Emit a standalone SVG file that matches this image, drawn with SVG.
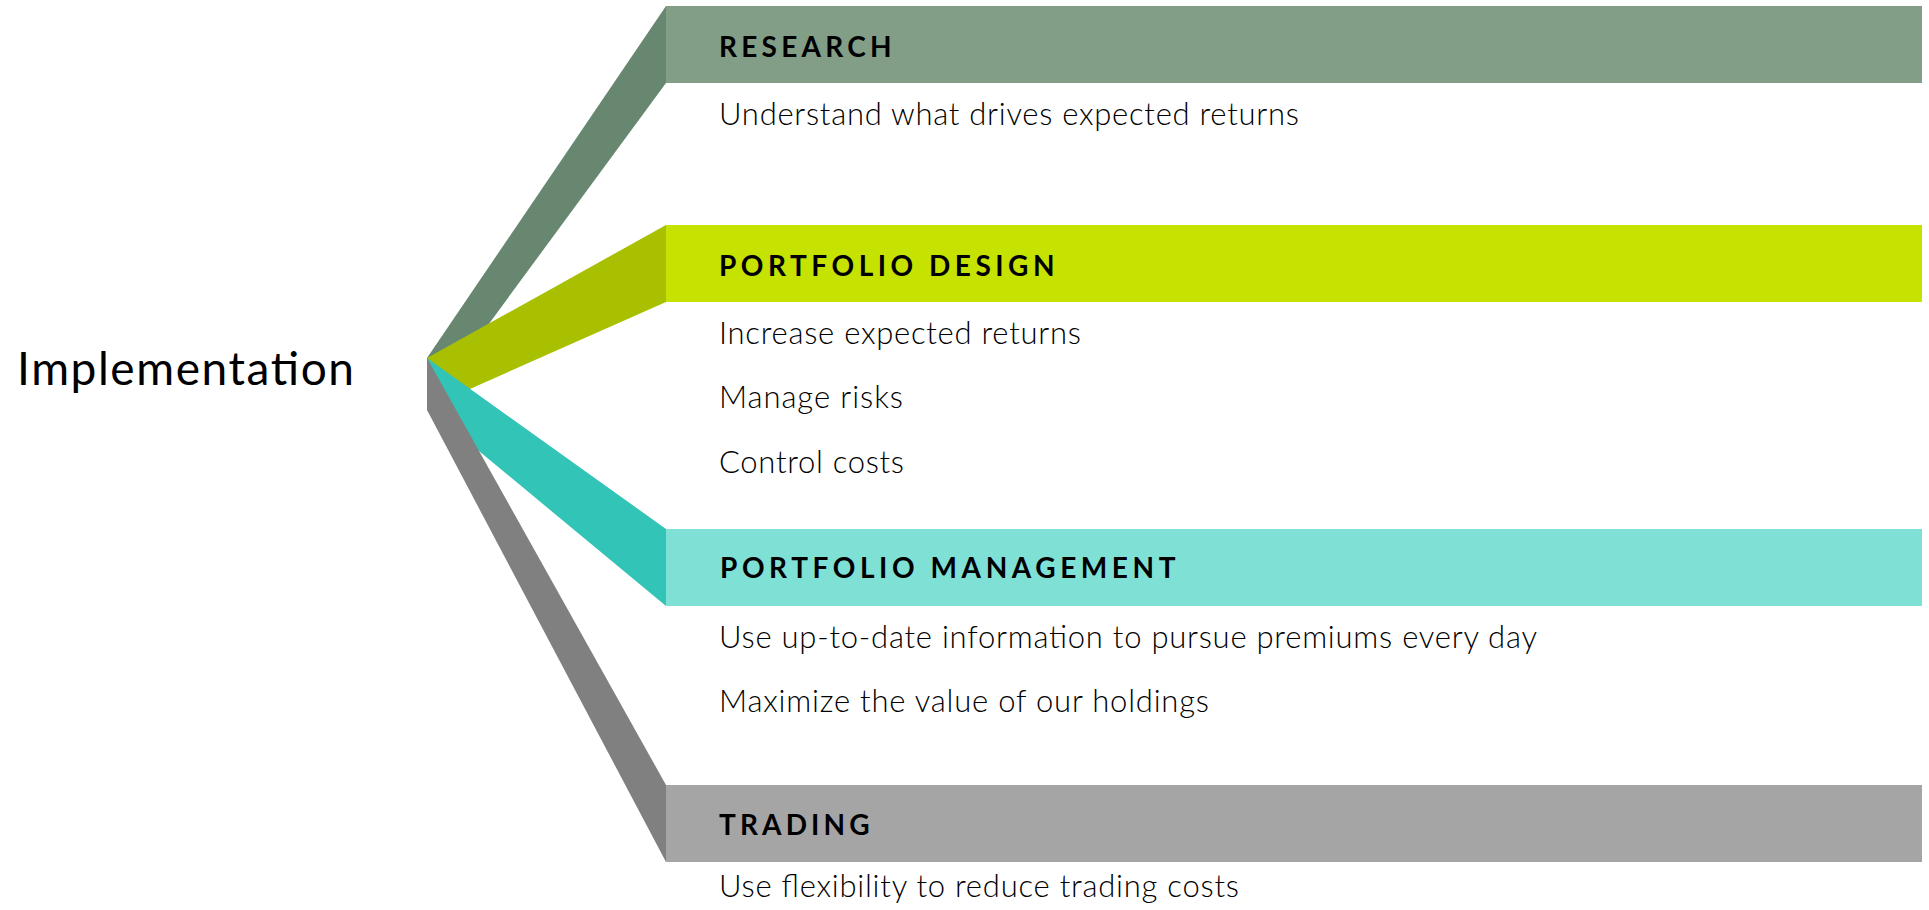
<svg xmlns="http://www.w3.org/2000/svg" width="1929" height="910" viewBox="0 0 1929 910">
<style>
.hd{font-family:"Lato","Liberation Sans",sans-serif;font-weight:700;font-size:28px;letter-spacing:3.5px;fill:#000}
.bd{font-family:"Lato","Liberation Sans",sans-serif;font-weight:300;font-size:31px;fill:#000}
.root{font-family:"Lato","Liberation Sans",sans-serif;font-weight:400;font-size:46px;fill:#000}
</style>
<rect width="1929" height="910" fill="#fff"/>
<g id="connectors">
<polygon points="427,358 666,6 666,83 427,408" fill="#678770"/>
<polygon points="427,358 666,225 666,302 427,408" fill="#A9C000"/>
<polygon points="427,358 666,529 666,606 427,408" fill="#31C4B7"/>
<polygon points="427,358 666,785 666,862 427,410" fill="#808080"/>
</g>
<g id="implementation">
<text class="root" x="17" y="385" textLength="337">Implementation</text>
</g>
<g id="research">
<rect x="666" y="6" width="1256" height="77" fill="#829E87"/>
<text class="hd" x="719" y="56.5" textLength="176">RESEARCH</text>
<text class="bd" x="719" y="125" textLength="580">Understand what drives expected returns</text>
</g>
<g id="portfolio-design">
<rect x="666" y="225" width="1256" height="77" fill="#C6E200"/>
<text class="hd" x="719" y="276" textLength="339">PORTFOLIO DESIGN</text>
<text class="bd" x="719" y="344" textLength="362">Increase expected returns</text>
<text class="bd" x="719" y="408" textLength="184">Manage risks</text>
<text class="bd" x="719" y="473" textLength="185">Control costs</text>
</g>
<g id="portfolio-management">
<rect x="666" y="529" width="1256" height="77" fill="#7FE0D6"/>
<text class="hd" x="720" y="578" textLength="459">PORTFOLIO MANAGEMENT</text>
<text class="bd" x="719" y="648" textLength="818">Use up-to-date information to pursue premiums every day</text>
<text class="bd" x="719" y="712" textLength="490">Maximize the value of our holdings</text>
</g>
<g id="trading">
<rect x="666" y="785" width="1256" height="77" fill="#A5A5A5"/>
<text class="hd" x="719" y="835" textLength="154">TRADING</text>
<text class="bd" x="719" y="897" textLength="520">Use flexibility to reduce trading costs</text>
</g>
</svg>
